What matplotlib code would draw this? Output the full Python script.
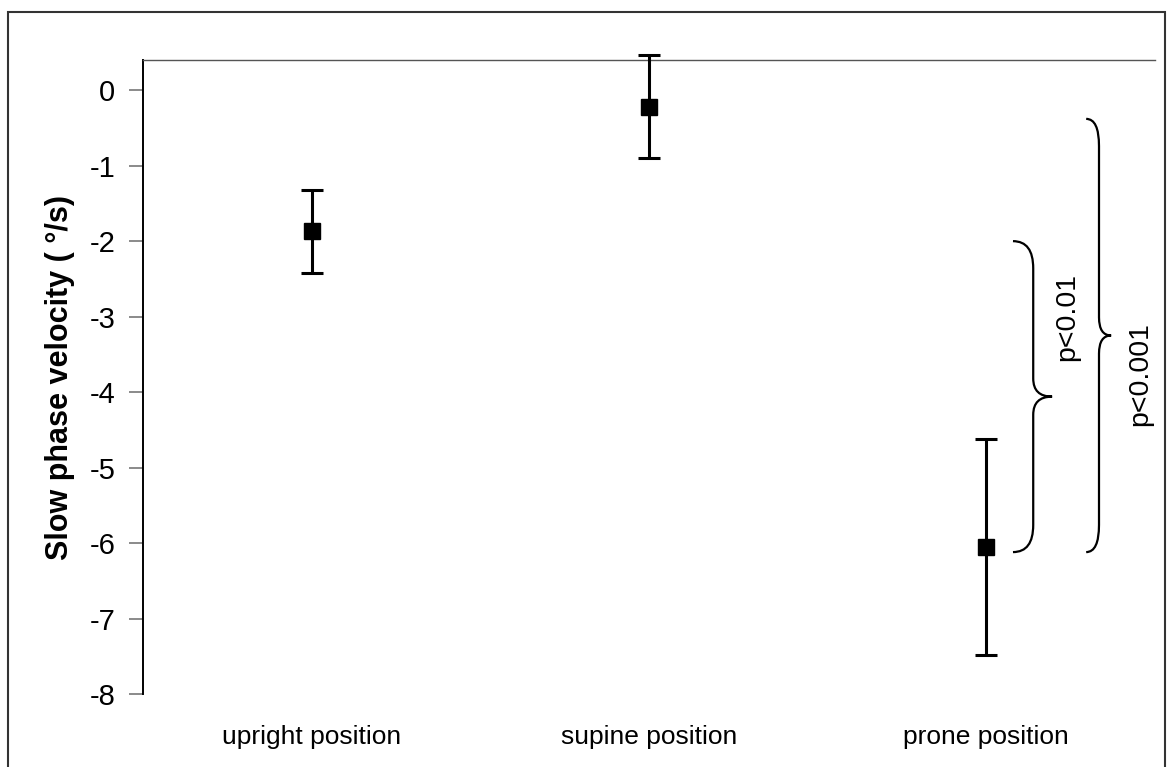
import matplotlib
matplotlib.use("Agg")
import matplotlib.pyplot as plt
from matplotlib.path import Path
from matplotlib.patches import PathPatch, Rectangle

plt.rcParams['font.family'] = ['Liberation Sans', 'DejaVu Sans']

# Mean slow phase velocity per body position, with error half-widths
positions = ["upright position", "supine position", "prone position"]
means = [-1.87, -0.22, -6.05]
errors = [0.55, 0.68, 1.43]
y_ticks = [0, -1, -2, -3, -4, -5, -6, -7, -8]

# Significance brackets: (top, bottom) of each compared range and its label
sig_ranges = [(-2.0, -6.12), (-0.38, -6.12)]
sig_labels = ["p<0.01", "p<0.001"]

W, H = 1171, 767
fig = plt.figure(figsize=(W / 100, H / 100), dpi=100)
ax = fig.add_axes([143 / W, 1 - 694 / H, (1155 - 143) / W, (694 - 60) / H])

xs = [i + 0.5 for i in range(len(positions))]
eb = ax.errorbar(xs, means, yerr=errors, fmt='s', color='black', ecolor='black',
                 markersize=11, elinewidth=2.2, capsize=8, capthick=2.2, zorder=3)
for artist in eb.lines[1] + eb.lines[2] + (eb.lines[0],):
    artist.set_clip_on(False)

ax.set_xlim(0, 3)
ax.set_ylim(-8, 0.4)
ax.set_yticks(y_ticks)
ax.set_yticklabels([str(v) for v in y_ticks], fontsize=21)
ax.tick_params(axis='y', direction='out', length=10, width=1.2, color='#777777', pad=10)
ax.set_xticks(xs)
ax.set_xticklabels(positions, fontsize=19)
ax.tick_params(axis='x', length=0, pad=22)

for side in ('right', 'bottom'):
    ax.spines[side].set_visible(False)
ax.spines['left'].set_linewidth(1.4)
ax.spines['left'].set_color('black')
ax.spines['top'].set_linewidth(1.0)
ax.spines['top'].set_color('#555555')

ax.set_ylabel("Slow phase velocity ( °/s)", fontsize=22, fontweight='bold', labelpad=10)


def brace(ax, x0, xm, xtip, ytop, ybot, r=0.36, r2=0.24):
    ytip = (ytop + ybot) / 2
    verts = [
        (x0, ytop), (xm, ytop), (xm, ytop - r),
        (xm, ytip + r2),
        (xm, ytip), (xtip, ytip),
        (xm, ytip), (xm, ytip - r2),
        (xm, ybot + r),
        (xm, ybot), (x0, ybot),
    ]
    codes = [Path.MOVETO, Path.CURVE3, Path.CURVE3,
             Path.LINETO,
             Path.CURVE3, Path.CURVE3,
             Path.CURVE3, Path.CURVE3,
             Path.LINETO,
             Path.CURVE3, Path.CURVE3]
    ax.add_patch(PathPatch(Path(verts, codes), fill=False, lw=1.6,
                           edgecolor='black', clip_on=False))


brace_x = [(2.579, 2.639, 2.695), (2.796, 2.834, 2.870)]
label_x = [2.739, 2.956]
label_dy = [1.05, -0.51]
for (ytop, ybot), (x0, xm, xt), lx, dy, lab in zip(sig_ranges, brace_x, label_x, label_dy, sig_labels):
    brace(ax, x0, xm, xt, ytop, ybot)
    ax.text(lx, (ytop + ybot) / 2 + dy, lab, rotation=90, fontsize=20.5,
            ha='center', va='center')

# Outer frame around the whole figure (runs off the bottom edge)
fig.patches.append(Rectangle((8 / W, -0.02), (1165 - 8) / W, 1.02 - 12 / H,
                             transform=fig.transFigure, fill=False,
                             edgecolor='#333333', lw=1.5))

fig.savefig("out.png", dpi=100)
